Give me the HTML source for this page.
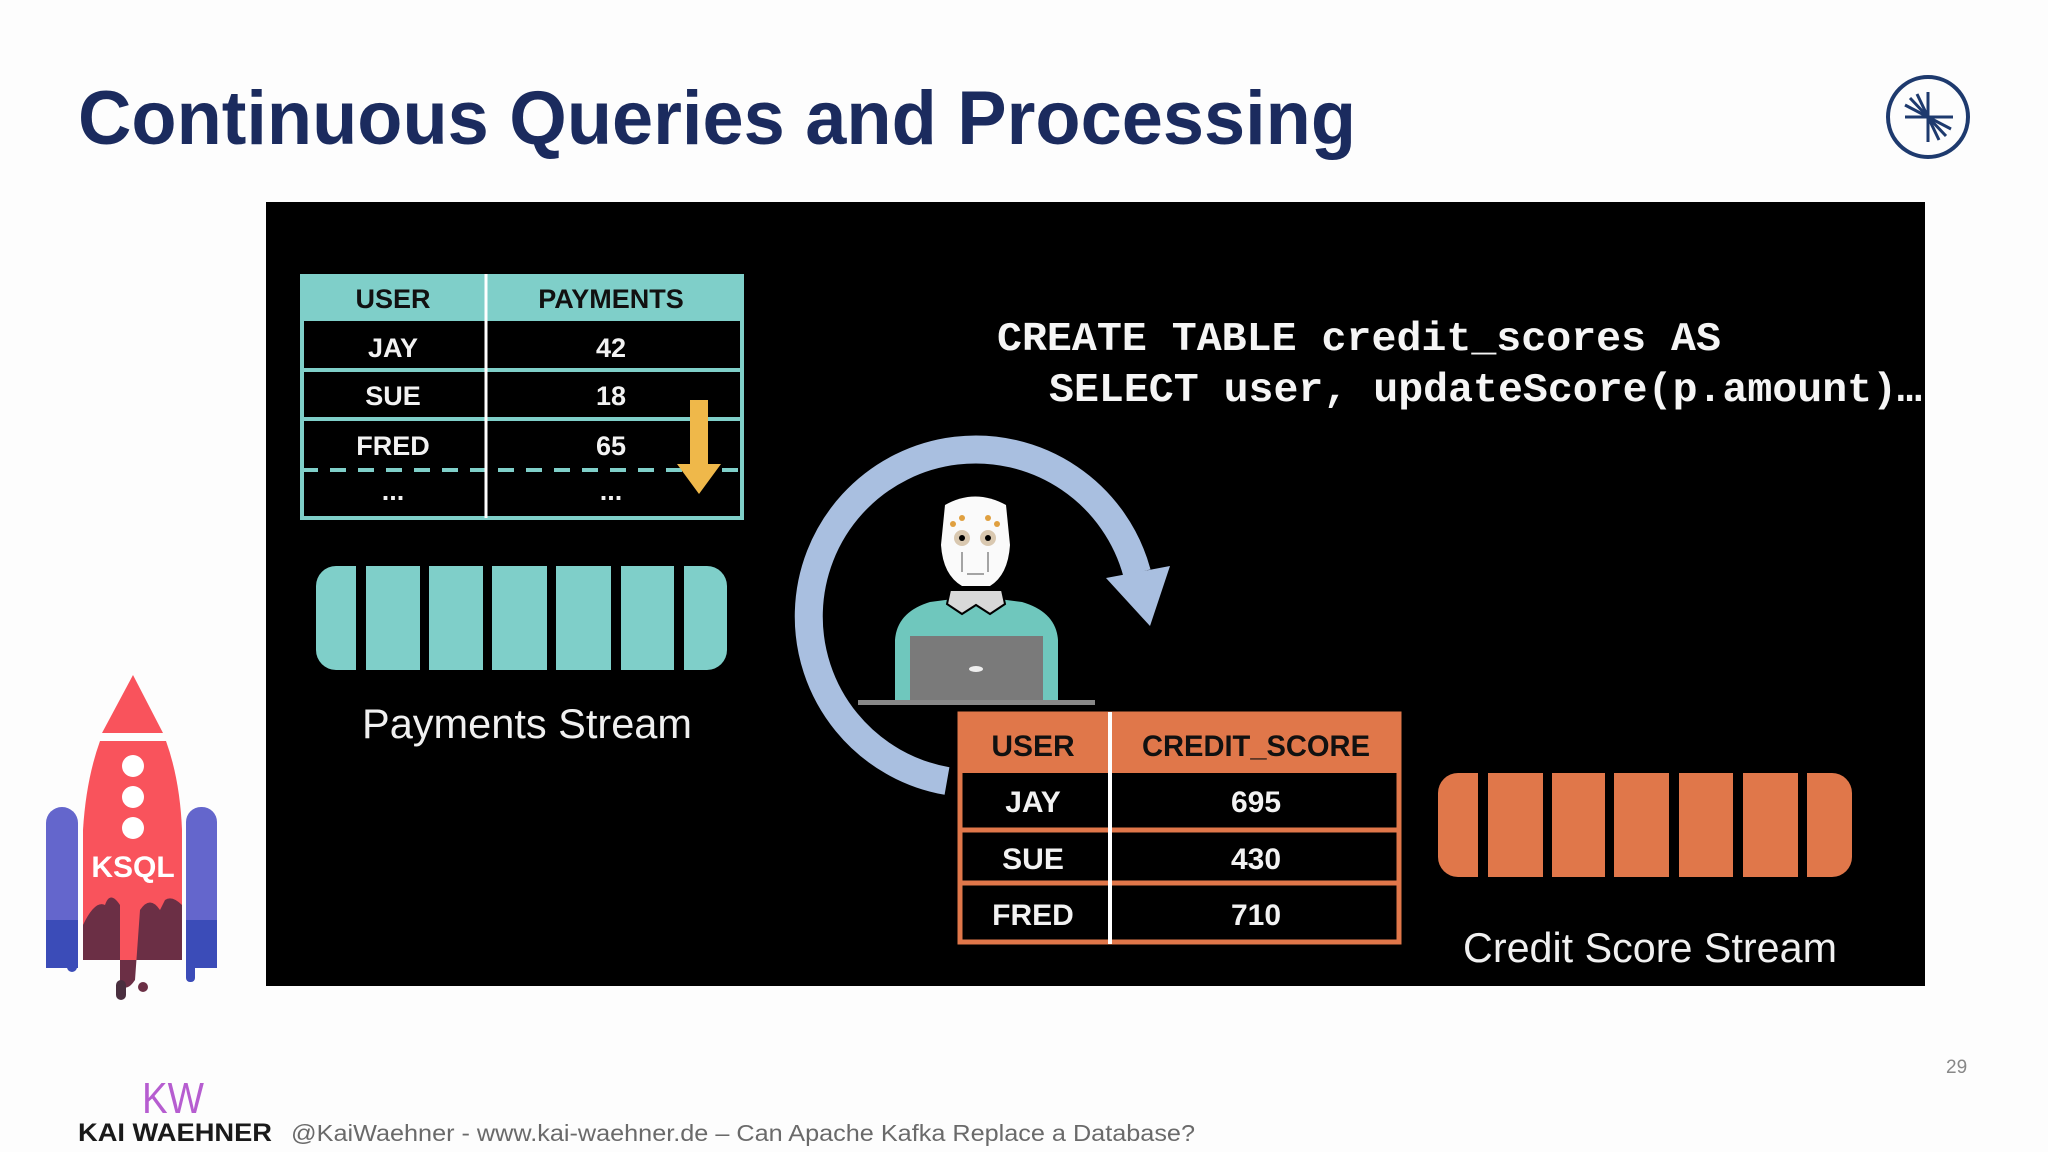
<!DOCTYPE html>
<html><head><meta charset="utf-8"><style>html,body{margin:0;padding:0;background:#fdfdfd}svg{display:block}</style></head>
<body>
<svg width="2048" height="1152" viewBox="0 0 2048 1152" xmlns="http://www.w3.org/2000/svg">
<rect width="2048" height="1152" fill="#fdfdfd"/>
<text x="78" y="144" font-family="Liberation Sans, sans-serif" font-weight="bold" font-size="76" fill="#1b2b5e" textLength="1278" lengthAdjust="spacingAndGlyphs">Continuous Queries and Processing</text>
<!-- logo -->
<g stroke="#1e3a6e" fill="none">
<circle cx="1928" cy="117" r="40" stroke-width="4"/>
<g stroke-width="3">
<line x1="1905" y1="117" x2="1953" y2="117"/><line x1="1928" y1="92" x2="1928" y2="142"/>
<line x1="1928" y1="117" x2="1905" y2="105"/><line x1="1928" y1="117" x2="1910" y2="98"/><line x1="1928" y1="117" x2="1917" y2="94"/>
<line x1="1928" y1="117" x2="1951" y2="129"/><line x1="1928" y1="117" x2="1946" y2="136"/><line x1="1928" y1="117" x2="1939" y2="140"/>
</g></g>
<!-- black panel -->
<rect x="266" y="202" width="1659" height="784" fill="#000"/>
<!-- table 1 -->
<g font-family="Liberation Sans, sans-serif" font-weight="bold" font-size="27" text-anchor="middle">
<rect x="300" y="274" width="444" height="47" fill="#7fcfc9"/>
<rect x="302" y="276" width="440" height="242" fill="none" stroke="#7fcfc9" stroke-width="4"/>
<line x1="302" y1="370" x2="742" y2="370" stroke="#7fcfc9" stroke-width="4"/>
<line x1="302" y1="419" x2="742" y2="419" stroke="#7fcfc9" stroke-width="4"/>
<line x1="302" y1="470" x2="742" y2="470" stroke="#7fcfc9" stroke-width="4" stroke-dasharray="16,12"/>
<line x1="486" y1="274" x2="486" y2="518" stroke="#fff" stroke-width="3"/>
<text x="393" y="308" fill="#111">USER</text><text x="611" y="308" fill="#111">PAYMENTS</text>
<g fill="#f2f2f2"><text x="393" y="357">JAY</text><text x="611" y="357">42</text>
<text x="393" y="405">SUE</text><text x="611" y="405">18</text>
<text x="393" y="455">FRED</text><text x="611" y="455">65</text>
<text x="393" y="500">...</text><text x="611" y="500">...</text></g>
</g>
<polygon points="690,400 708,400 708,464 721,464 699,494 677,464 690,464" fill="#efb84a"/>
<!-- payments stream -->
<rect x="316" y="566" width="411" height="104" rx="20" fill="#7fcfc9"/>
<g fill="#000"><rect x="356" y="566" width="10" height="104"/><rect x="420" y="566" width="9" height="104"/><rect x="483" y="566" width="9" height="104"/><rect x="547" y="566" width="9" height="104"/><rect x="611" y="566" width="10" height="104"/><rect x="674" y="566" width="10" height="104"/></g>
<text x="362" y="738" font-family="Liberation Sans, sans-serif" font-size="42" fill="#f0f0f0" textLength="330" lengthAdjust="spacingAndGlyphs">Payments Stream</text>
<!-- SQL -->
<g font-family="Liberation Mono, monospace" font-weight="bold" font-size="41" fill="#f5f5f5">
<text x="997" y="350" textLength="724" lengthAdjust="spacingAndGlyphs">CREATE TABLE credit_scores AS</text>
<text x="1049" y="401" textLength="873" lengthAdjust="spacingAndGlyphs">SELECT user, updateScore(p.amount)…</text>
</g>
<!-- circular arrow -->
<path d="M 947 781 A 167 167 0 1 1 1137 573" fill="none" stroke="#a9bfe0" stroke-width="28"/>
<polygon points="1106,578 1170,566 1150,626" fill="#a9bfe0"/>
<!-- robot person -->
<path d="M 895 700 L 895 640 Q 897 612 930 602 L 976 596 L 1022 602 Q 1056 612 1058 640 L 1058 700 Z" fill="#6fc7bd"/>
<polygon points="950,590 1002,590 1005,604 990,614 976,605 962,614 947,604" fill="#d8d8d8" stroke="#000" stroke-width="2"/>
<path d="M 945 505 Q 975 488 1006 505 L 1010 545 Q 1008 575 990 586 L 962 586 Q 943 575 941 545 Z" fill="#fafafa"/>
<circle cx="962" cy="538" r="8" fill="#d9c8b0"/><circle cx="988" cy="538" r="8" fill="#d9c8b0"/>
<circle cx="962" cy="538" r="3" fill="#000"/><circle cx="988" cy="538" r="3" fill="#000"/>
<circle cx="953" cy="524" r="3" fill="#e0a040"/><circle cx="962" cy="518" r="3" fill="#e0a040"/><circle cx="988" cy="518" r="3" fill="#e0a040"/><circle cx="997" cy="524" r="3" fill="#e0a040"/>
<path d="M 962 552 L 962 572 M 988 552 L 988 572 M 967 574 L 984 574" stroke="#888" stroke-width="1.5" fill="none"/>
<rect x="910" y="636" width="133" height="66" fill="#7a7a7a"/>
<ellipse cx="976" cy="669" rx="7" ry="3" fill="#eee"/>
<rect x="858" y="700" width="237" height="5" fill="#888"/>
<!-- table 2 -->
<g font-family="Liberation Sans, sans-serif" font-weight="bold" font-size="30" text-anchor="middle">
<rect x="958" y="712" width="443" height="61" fill="#e0774a"/>
<rect x="960" y="714" width="439" height="228" fill="none" stroke="#e0774a" stroke-width="5"/>
<line x1="960" y1="830" x2="1399" y2="830" stroke="#e0774a" stroke-width="5"/>
<line x1="960" y1="883" x2="1399" y2="883" stroke="#e0774a" stroke-width="5"/>
<line x1="1110" y1="712" x2="1110" y2="944" stroke="#fff" stroke-width="4"/>
<text x="1033" y="756" fill="#111">USER</text><text x="1256" y="756" fill="#111" textLength="228" lengthAdjust="spacingAndGlyphs">CREDIT_SCORE</text>
<g fill="#f2f2f2"><text x="1033" y="812">JAY</text><text x="1256" y="812">695</text>
<text x="1033" y="869">SUE</text><text x="1256" y="869">430</text>
<text x="1033" y="925">FRED</text><text x="1256" y="925">710</text></g>
</g>
<!-- credit stream -->
<rect x="1438" y="773" width="414" height="104" rx="20" fill="#e0774a"/>
<g fill="#000"><rect x="1478" y="773" width="10" height="104"/><rect x="1543" y="773" width="9" height="104"/><rect x="1605" y="773" width="9" height="104"/><rect x="1669" y="773" width="10" height="104"/><rect x="1733" y="773" width="10" height="104"/><rect x="1798" y="773" width="9" height="104"/></g>
<text x="1463" y="962" font-family="Liberation Sans, sans-serif" font-size="42" fill="#f0f0f0" textLength="374" lengthAdjust="spacingAndGlyphs">Credit Score Stream</text>
<!-- rocket -->
<rect x="46" y="807" width="32" height="161" rx="16" fill="#6466cc"/>
<rect x="186" y="807" width="31" height="161" rx="15" fill="#6466cc"/>
<rect x="46" y="920" width="32" height="48" fill="#3b4cb8"/><rect x="186" y="920" width="31" height="48" fill="#3b4cb8"/>
<polygon points="133,675 102,733 163,733" fill="#f9535c"/>
<path d="M 100 741 L 166 741 Q 180 780 182 830 L 182 960 L 83 960 L 83 830 Q 86 780 100 741 Z" fill="#f9535c"/>
<path d="M 83 925 Q 95 900 105 905 Q 110 890 120 905 L 120 980 Q 125 995 135 980 L 140 910 Q 150 895 160 910 L 165 900 Q 172 895 182 905 L 182 960 L 83 960 Z" fill="#6b2f45"/>
<circle cx="133" cy="766" r="11" fill="#fff"/><circle cx="133" cy="797" r="11" fill="#fff"/><circle cx="133" cy="828" r="11" fill="#fff"/>
<text x="133" y="877" text-anchor="middle" font-family="Liberation Sans, sans-serif" font-weight="bold" font-size="30" fill="#fff">KSQL</text>
<circle cx="72" cy="967" r="5" fill="#3b4cb8"/><rect x="186" y="962" width="9" height="20" rx="4" fill="#3b4cb8"/>
<rect x="116" y="980" width="10" height="20" rx="5" fill="#4a2f3f"/><circle cx="143" cy="987" r="5" fill="#6b2f45"/>
<!-- footer -->
<text x="173" y="1113" text-anchor="middle" font-family="Liberation Sans, sans-serif" font-size="44" fill="#b65dd0" textLength="62" lengthAdjust="spacingAndGlyphs">KW</text>
<text x="78" y="1141" font-family="Liberation Sans, sans-serif" font-weight="bold" font-size="25" fill="#1a1a1a" textLength="194" lengthAdjust="spacingAndGlyphs">KAI WAEHNER</text>
<text x="291" y="1141" font-family="Liberation Sans, sans-serif" font-size="23" fill="#6a6a6a" textLength="904" lengthAdjust="spacingAndGlyphs">@KaiWaehner - www.kai-waehner.de – Can Apache Kafka Replace a Database?</text>
<text x="1946" y="1073" font-family="Liberation Sans, sans-serif" font-size="19" fill="#888">29</text>
</svg>
</body></html>
